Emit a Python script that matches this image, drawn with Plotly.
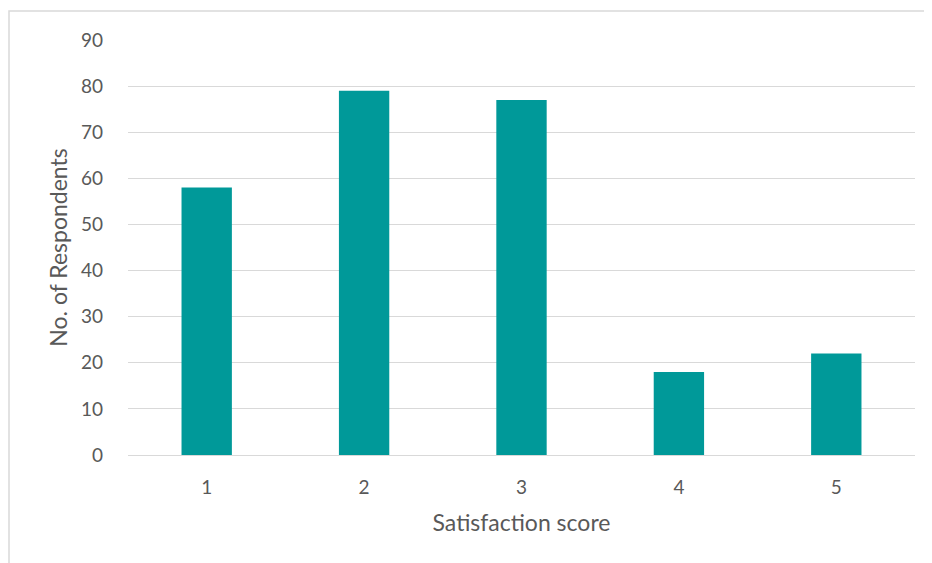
import plotly.graph_objects as go

categories = ["1", "2", "3", "4", "5"]
respondents = [58, 79, 77, 18, 22]
y_ticks = [0, 10, 20, 30, 40, 50, 60, 70, 80, 90]

# page body has an 8px margin; figure placed at (8, 8)
OFF = 8
W, H = 932 - OFF, 563 - OFF
L, R, T, B = 128 - OFF, 17, 40 - OFF, 108
pw, ph = W - L - R, H - T - B

fig = go.Figure()
fig.add_trace(go.Bar(x=categories, y=respondents, marker_color="#009999",
                     marker_line_width=0, width=0.32))

font = "Lato, Open Sans, Liberation Sans, sans-serif"
fig.update_layout(
    width=W, height=H,
    margin=dict(l=L, r=R, t=T, b=B),
    plot_bgcolor="white", paper_bgcolor="white",
    font=dict(family=font, size=19, color="#595959"),
    showlegend=False,
    xaxis=dict(type="category", showgrid=False, showline=False, zeroline=False,
               ticks="", ticklabelstandoff=19,
               title=dict(text="Satisfaction score", font=dict(size=23, color="#595959"), standoff=17)),
    yaxis=dict(range=[0, 90], tickvals=y_ticks, showgrid=True, gridcolor="#d9d9d9",
               gridwidth=1, zeroline=True, zerolinecolor="#d9d9d9", zerolinewidth=1,
               showline=False, ticks="", ticklabelstandoff=24,
               title=dict(text="No. of Respondents", font=dict(size=23, color="#595959"), standoff=6)),
    shapes=[dict(type="rect", xref="paper", yref="paper",
                 x0=(9 - 128) / pw, x1=1.2, y0=-0.5, y1=(455 - 11) / ph,
                 line=dict(color="#d9d9d9", width=1.5), layer="below")],
)
fig.write_html("out.html")
